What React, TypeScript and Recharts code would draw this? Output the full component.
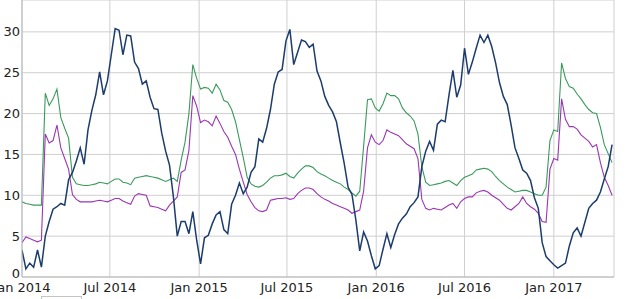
// Seasonal sensor chart – three daily series, 8-day samples, Jan 2014 – May 2017

import { LineChart, Line, XAxis, YAxis, CartesianGrid } from "recharts";

const STEP_DAYS = 8;
const X_MAX_DAY = 1220;

const TICK_DAYS = [0, 181, 365, 546, 730, 912, 1096];
const TICK_LABELS = ["Jan 2014", "Jul 2014", "Jan 2015", "Jul 2015", "Jan 2016", "Jul 2016", "Jan 2017"];
const Y_TICKS = [0, 5, 10, 15, 20, 25, 30];

// dark blue series (seasonal)
const BLUE = [
  3.3, 1.0, 1.7, 1.2, 3.3, 1.2, 5.0, 6.8, 8.3, 8.6,
  9.0, 8.8, 11.9, 12.8, 14.2, 15.8, 13.8, 18.0, 20.4, 22.3,
  25.1, 22.3, 24.0, 27.2, 30.4, 30.2, 27.2, 29.6, 29.5, 26.3,
  25.5, 23.6, 24.0, 22.0, 20.6, 20.5, 17.6, 15.4, 13.7, 9.8,
  5.0, 6.8, 6.8, 5.3, 8.0, 4.5, 1.6, 4.8, 5.1, 6.5,
  7.6, 8.0, 5.8, 5.3, 8.9, 10.0, 11.5, 10.2, 11.0, 12.8,
  13.5, 16.9, 16.5, 18.2, 20.5, 23.6, 25.1, 25.4, 28.9, 30.3,
  26.0, 27.5, 29.0, 28.8, 28.1, 28.5, 25.2, 24.0, 22.1, 21.0,
  20.2, 19.0, 16.4, 13.9, 11.0, 10.1, 7.0, 3.2, 5.5, 4.4,
  2.6, 1.0, 1.4, 3.4, 5.3, 3.6, 5.2, 6.5, 7.2, 7.7,
  8.6, 9.1, 9.8, 13.5, 15.4, 16.6, 15.5, 18.7, 19.2, 19.0,
  22.3, 25.3, 22.0, 23.5, 28.0, 24.8, 26.3, 28.0, 29.6, 28.7,
  29.6, 28.2, 26.2, 23.8, 22.1, 21.1, 18.6, 15.8, 14.5, 13.1,
  12.7, 11.8, 9.7, 8.4, 4.2, 2.5, 2.0, 1.5, 1.1, 1.4,
  1.7, 3.8, 5.4, 6.0, 5.0, 6.7, 8.4, 9.0, 9.4, 10.4,
  12.0, 13.5, 16.2,
];

const GREEN = [
  9.2, 9.0, 8.9, 8.8, 8.8, 8.8, 22.5, 21.0, 21.8, 23.0,
  19.5, 18.2, 17.0, 12.2, 11.4, 11.3, 11.2, 11.2, 11.3, 11.4,
  11.6, 11.5, 11.4, 11.7, 12.0, 12.0, 11.6, 11.5, 11.3, 12.1,
  12.2, 12.3, 12.4, 12.3, 12.2, 12.1, 11.9, 11.7, 11.9, 12.1,
  11.7, 14.3, 16.5, 20.0, 26.0, 24.3, 23.0, 23.2, 23.1, 22.5,
  23.6, 22.9, 21.6, 21.4, 20.5, 19.0, 16.8, 14.6, 12.2, 11.4,
  11.1, 11.0, 11.2, 11.6, 12.1, 12.4, 12.4, 12.5, 12.7, 12.3,
  12.1, 12.7, 13.2, 13.6, 13.6, 13.4, 12.9, 12.6, 12.4, 12.1,
  11.8, 11.6, 11.4, 11.0, 10.7, 10.3, 9.9, 10.5, 16.0, 21.7,
  21.8, 20.7, 20.3, 21.2, 22.5, 22.2, 22.2, 21.8, 20.7, 20.1,
  19.7, 19.1, 17.5, 13.5, 11.6, 11.2, 11.3, 11.4, 11.5, 11.7,
  11.8, 11.5, 11.2, 11.8, 12.2, 12.4, 12.6, 13.1, 13.2, 13.3,
  13.2, 12.9, 12.3, 11.8, 11.4, 11.0, 10.7, 10.4, 10.5, 10.6,
  10.6, 10.4, 10.2, 10.0, 10.0, 11.0, 16.7, 18.0, 17.8, 26.2,
  24.3, 23.3, 23.1, 22.4, 21.8, 21.1, 20.5, 20.1, 20.0, 18.3,
  16.2, 15.1, 14.0,
];

const PURPLE = [
  4.2, 4.9, 4.7, 4.5, 4.3, 4.5, 17.5, 16.4, 16.7, 18.6,
  15.8, 14.5, 13.2, 10.1, 9.5, 9.2, 9.2, 9.2, 9.2, 9.3,
  9.4, 9.3, 9.2, 9.4, 9.6, 9.6, 9.3, 9.1, 8.9, 9.9,
  10.2, 10.1, 10.0, 8.7, 8.6, 8.5, 8.3, 8.1, 8.8, 9.3,
  9.8, 12.8, 13.1, 15.5, 22.2, 20.9, 18.9, 19.2, 19.0, 18.5,
  19.7, 18.8, 17.8, 17.1, 16.0, 15.0, 13.2, 11.6, 10.1, 9.2,
  8.5, 8.1, 8.0, 8.2, 9.4, 9.5, 9.6, 9.6, 9.7, 9.5,
  9.6, 10.2, 10.6, 10.9, 10.9, 10.7, 10.2, 9.8, 9.5, 9.3,
  9.0, 8.8, 8.6, 8.4, 8.2, 7.8, 8.0, 8.2, 10.5, 15.8,
  17.4, 16.5, 16.2, 16.7, 18.0, 17.7, 17.5, 17.3, 16.8, 16.3,
  16.0, 15.7, 14.5, 9.5, 8.4, 8.2, 8.4, 8.3, 8.2, 8.5,
  8.8, 9.0, 8.4, 9.2, 9.6, 9.8, 9.8, 10.3, 10.5, 10.6,
  10.4, 10.0, 9.7, 9.4, 8.9, 8.4, 8.2, 8.6, 9.0, 9.8,
  9.0, 8.6, 8.3, 7.8, 6.8, 6.7, 13.2, 14.5, 14.3, 21.8,
  19.3, 18.4, 18.4, 18.1, 17.4, 17.0, 16.6, 15.9, 16.2, 14.0,
  12.2, 11.2, 10.0,
];

const chartData = BLUE.map((blue, i) => ({
  day: i * STEP_DAYS,
  blue,
  green: GREEN[i],
  purple: PURPLE[i],
}));

const FONT = "DejaVu Sans, Verdana, sans-serif";
const tickStyle = { fill: "#222", fontSize: 13, fontFamily: FONT };

// bottom label sits a bit above its line so it stays clear of the date labels
function YTick(props: any) {
  const { x, y, payload } = props;
  const shift = payload.value === 0 ? -4 : 0;
  return (
    <text x={x} y={y + shift} dy="0.355em" textAnchor="end" fill="#222" fontSize={13} fontFamily={FONT}>
      {payload.value}
    </text>
  );
}

export default function App() {
  return (
    <div
      style={{
        position: "absolute",
        left: 0,
        top: 0,
        width: 640,
        height: 299,
        background: "#fff",
        overflow: "hidden",
      }}
    >
      <LineChart
        width={640}
        height={299}
        data={chartData}
        margin={{ top: 0, right: 26, bottom: 0, left: 0 }}
      >
        <CartesianGrid stroke="#cfcfcf" />
        <XAxis
          dataKey="day"
          type="number"
          domain={[0, X_MAX_DAY]}
          ticks={TICK_DAYS}
          interval={0}
          tickFormatter={(d) => TICK_LABELS[TICK_DAYS.indexOf(d)]}
          tickSize={0}
          tickMargin={6}
          height={22}
          stroke="#b8b8b8"
          tick={tickStyle}
          allowDataOverflow
        />
        <YAxis
          domain={[0, 33.9]}
          ticks={Y_TICKS}
          interval={0}
          width={22}
          tickSize={0}
          tickMargin={2}
          stroke="#b8b8b8"
          tick={<YTick />}
          allowDataOverflow
        />
        <Line type="linear" dataKey="green" stroke="#3a9a5b" strokeWidth={1.1} dot={false} isAnimationActive={false} />
        <Line type="linear" dataKey="purple" stroke="#9b36b3" strokeWidth={1.1} dot={false} isAnimationActive={false} />
        <Line type="linear" dataKey="blue" stroke="#1b3c6c" strokeWidth={1.5} dot={false} isAnimationActive={false} />
      </LineChart>
      <div
        style={{
          position: "absolute",
          left: 41,
          top: 296,
          width: 39,
          height: 10,
          border: "1px solid #c4c4c4",
        }}
      />
    </div>
  );
}
